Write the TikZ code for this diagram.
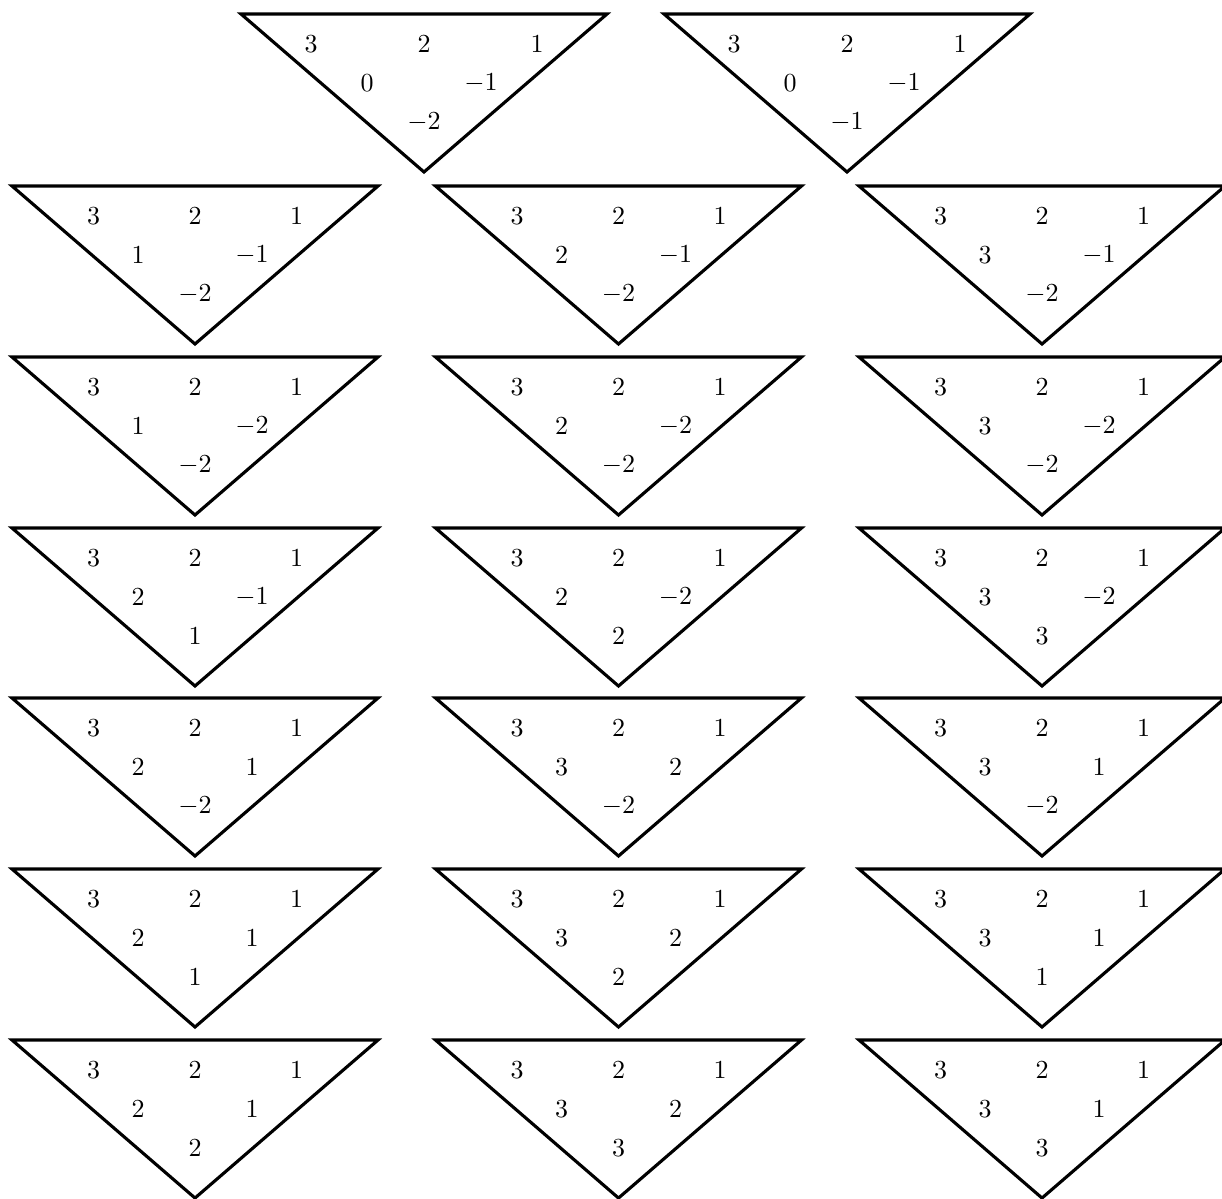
\documentclass[tikz,border=0pt]{standalone}
\usepackage{amsmath,amssymb}
\usepackage{tikz}
\usetikzlibrary{calc}

\begin{document}
\begin{tikzpicture}[x=0.3846pt,y=-0.3846pt,
  gtframe/.style={very thick,line join=miter},
  gtentry/.style={inner sep=0pt,anchor=center}]
  \useasboundingbox (0,0) rectangle (1222,1198);
  % name / apex x / top y / spread of top row / entries of the lower rows
  \foreach \n/\cx/\ty/\s/\a/\b/\c in {
      r1a/424/14/113/0/-1/-2, r1b/847/14/113/0/-1/-1,
      r2a/195/186/101.5/1/-1/-2, r2b/618.5/186/101.5/2/-1/-2, r2c/1042/186/101.5/3/-1/-2,
      r3a/195/357/101.5/1/-2/-2, r3b/618.5/357/101.5/2/-2/-2, r3c/1042/357/101.5/3/-2/-2,
      r4a/195/528/101.5/2/-1/1,  r4b/618.5/528/101.5/2/-2/2,  r4c/1042/528/101.5/3/-2/3,
      r5a/195/698/101.5/2/1/-2,  r5b/618.5/698/101.5/3/2/-2,  r5c/1042/698/101.5/3/1/-2,
      r6a/195/869/101.5/2/1/1,   r6b/618.5/869/101.5/3/2/2,   r6c/1042/869/101.5/3/1/1,
      r7a/195/1040/101.5/2/1/2,  r7b/618.5/1040/101.5/3/2/3,  r7c/1042/1040/101.5/3/1/3} {
    \coordinate (\n-l) at (\cx-183,\ty);
    \coordinate (\n-r) at (\cx+183,\ty);
    \coordinate (\n-v) at (\cx,\ty+158);
    \draw[gtframe] (\n-l) -- (\n-r) -- (\n-v) -- cycle;
    \node[gtentry] (\n-11) at (\cx-\s,\ty+30) {$3$};
    \node[gtentry] (\n-12) at (\cx,\ty+30) {$2$};
    \node[gtentry] (\n-13) at (\cx+\s,\ty+30) {$1$};
    \node[gtentry] (\n-21) at (\cx-57,\ty+69) {$\a$};
    \node[gtentry] (\n-22) at (\cx+57,\ty+69) {$\b$};
    \node[gtentry] (\n-31) at (\cx,\ty+108) {$\c$};
  }
\end{tikzpicture}
\end{document}
